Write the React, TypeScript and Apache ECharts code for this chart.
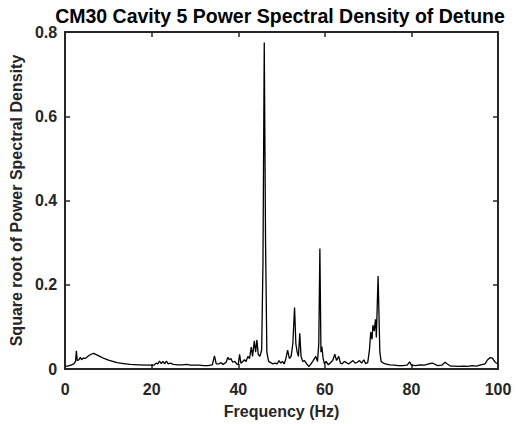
import React, { useEffect, useRef } from "react";
import * as echarts from "echarts";

const freqHz: number[] = [
  0, 0.5, 1.0, 1.5, 2.0, 2.4, 2.6, 2.8, 3.2, 3.5, 3.8, 4.2, 4.6, 5.0, 5.5, 6.0, 6.6, 7.2, 8.0, 9.0,
  10.0, 11.0, 12.0, 13.5, 15.0, 17.0, 19.0, 20.5, 21.0, 21.4, 21.8, 22.2, 22.6, 23.0, 23.4, 23.8, 24.3, 25.0, 26.0, 27.0,
  28.0, 29.0, 30.0, 31.0, 32.0, 33.0, 34.0, 34.5, 34.9, 35.5, 36.0, 36.5, 37.2, 37.6, 37.9, 38.3, 38.7, 39.2, 39.6, 40.0,
  40.3, 40.6, 41.0, 41.4, 41.8, 42.2, 42.6, 43.0, 43.3, 43.7, 44.0, 44.3, 44.6, 45.0, 45.4, 45.7, 46.0, 46.3, 46.6, 47.0,
  47.5, 48.0, 48.5, 49.0, 49.4, 49.8, 50.2, 50.6, 51.0, 51.4, 51.8, 52.2, 52.6, 53.0, 53.3, 53.6, 53.9, 54.2, 54.5, 54.9,
  55.3, 55.8, 56.3, 56.8, 57.3, 57.9, 58.3, 58.6, 58.85, 59.1, 59.3, 59.6, 59.9, 60.3, 60.8, 61.3, 61.8, 62.3, 62.7, 63.2,
  63.6, 64.0, 64.5, 65.0, 65.5, 66.0, 66.5, 67.0, 67.5, 68.0, 68.5, 69.0, 69.4, 69.9, 70.3, 70.6, 70.9, 71.1, 71.4, 71.7,
  71.9, 72.1, 72.3, 72.5, 72.7, 73.0, 73.5, 74.0, 75.0, 76.0, 77.0, 78.0, 79.0, 79.6, 80.0, 81.0, 82.0, 83.0, 84.0, 84.8,
  85.3, 86.0, 87.0, 87.8, 88.3, 89.0, 90.0, 91.0, 92.0, 93.0, 94.0, 95.0, 96.0, 97.0, 97.6, 98.2, 98.7, 99.2, 99.6, 100.0,
];

const sqrtPsd: number[] = [
  0.006, 0.007, 0.008, 0.010, 0.012, 0.018, 0.043, 0.020, 0.022, 0.028, 0.022, 0.026, 0.025, 0.028, 0.032, 0.035, 0.037, 0.034, 0.030, 0.025,
  0.021, 0.018, 0.015, 0.013, 0.011, 0.010, 0.009, 0.009, 0.014, 0.012, 0.019, 0.013, 0.018, 0.012, 0.019, 0.012, 0.014, 0.011, 0.010, 0.010,
  0.011, 0.009, 0.009, 0.009, 0.008, 0.008, 0.010, 0.031, 0.012, 0.012, 0.015, 0.011, 0.016, 0.028, 0.022, 0.025, 0.016, 0.018, 0.012, 0.010,
  0.035, 0.014, 0.017, 0.022, 0.018, 0.030, 0.025, 0.052, 0.030, 0.067, 0.040, 0.069, 0.035, 0.030, 0.045, 0.250, 0.775, 0.300, 0.040, 0.018,
  0.015, 0.012, 0.014, 0.012, 0.020, 0.014, 0.018, 0.012, 0.025, 0.045, 0.025, 0.030, 0.060, 0.146, 0.060, 0.040, 0.030, 0.085, 0.030, 0.018,
  0.020, 0.012, 0.006, 0.012, 0.020, 0.030, 0.018, 0.060, 0.286, 0.040, 0.053, 0.025, 0.012, 0.018, 0.010, 0.015, 0.020, 0.035, 0.020, 0.030,
  0.014, 0.012, 0.018, 0.015, 0.012, 0.016, 0.020, 0.014, 0.016, 0.020, 0.014, 0.022, 0.013, 0.015, 0.045, 0.088, 0.070, 0.104, 0.090, 0.118,
  0.075, 0.150, 0.221, 0.130, 0.040, 0.018, 0.014, 0.012, 0.010, 0.009, 0.008, 0.008, 0.009, 0.017, 0.009, 0.008, 0.010, 0.009, 0.012, 0.014,
  0.012, 0.008, 0.009, 0.016, 0.012, 0.007, 0.007, 0.006, 0.007, 0.006, 0.008, 0.007, 0.010, 0.012, 0.022, 0.027, 0.026, 0.018, 0.014, 0.013,
];

const titleText = "CM30 Cavity 5 Power Spectral Density of Detune";
const xName = "Frequency (Hz)";
const yName = "Square root of Power Spectral Density";

const FONT = "'Liberation Sans', Arial, Helvetica, sans-serif";
const AX = "#262626";

export default function App() {
  const ref = useRef<HTMLDivElement>(null);
  useEffect(() => {
    if (!ref.current) return;
    const chart = echarts.init(ref.current, null, { renderer: "svg" });
    const axisLine = { show: true, onZero: false, lineStyle: { color: AX, width: 2 } };
    const axisTick = { show: true, inside: true, length: 5, lineStyle: { color: AX, width: 1.5 } };
    const labelStyle = { color: AX, fontWeight: "bold" as const, fontSize: 16, fontFamily: FONT };
    const nameStyle = { color: AX, fontWeight: "bold" as const, fontSize: 16, fontFamily: FONT };
    chart.setOption({
      animation: false,
      backgroundColor: "#ffffff",
      grid: { left: 63, right: 19, top: 32, bottom: 54, containLabel: false },
      graphic: [
        {
          type: "text",
          x: 280,
          y: 6,
          style: {
            text: titleText,
            fill: "#000000",
            font: `bold 19.5px ${FONT}`,
            align: "center",
            verticalAlign: "top",
          },
        },
      ],
      xAxis: [
        {
          type: "value",
          min: 0,
          max: 100,
          interval: 20,
          position: "bottom",
          name: xName,
          nameLocation: "middle",
          nameGap: 34,
          nameTextStyle: nameStyle,
          axisLine,
          axisTick,
          axisLabel: { ...labelStyle, margin: 12 },
          splitLine: { show: false },
        },
        {
          type: "value",
          min: 0,
          max: 100,
          interval: 20,
          position: "top",
          axisLine,
          axisTick,
          axisLabel: { show: false },
          splitLine: { show: false },
        },
      ],
      yAxis: [
        {
          type: "value",
          min: 0,
          max: 0.8,
          interval: 0.2,
          position: "left",
          name: yName,
          nameLocation: "middle",
          nameGap: 37,
          nameTextStyle: nameStyle,
          axisLine,
          axisTick,
          axisLabel: {
            ...labelStyle,
            margin: 8,
            formatter: (v: number) => (v === 0 ? "0" : v.toFixed(1)),
          },
          splitLine: { show: false },
        },
        {
          type: "value",
          min: 0,
          max: 0.8,
          interval: 0.2,
          position: "right",
          axisLine,
          axisTick,
          axisLabel: { show: false },
          splitLine: { show: false },
        },
      ],
      series: [
        {
          type: "line",
          xAxisIndex: 0,
          yAxisIndex: 0,
          data: freqHz.map((f, i) => [f, sqrtPsd[i]]),
          showSymbol: false,
          symbol: "none",
          lineStyle: { color: "#000000", width: 1.3 },
          z: 1,
        },
      ],
    });
    return () => chart.dispose();
  }, []);
  return (
    <div
      ref={ref}
      style={{ position: "fixed", left: 0, top: 0, width: 517, height: 424 }}
    />
  );
}
